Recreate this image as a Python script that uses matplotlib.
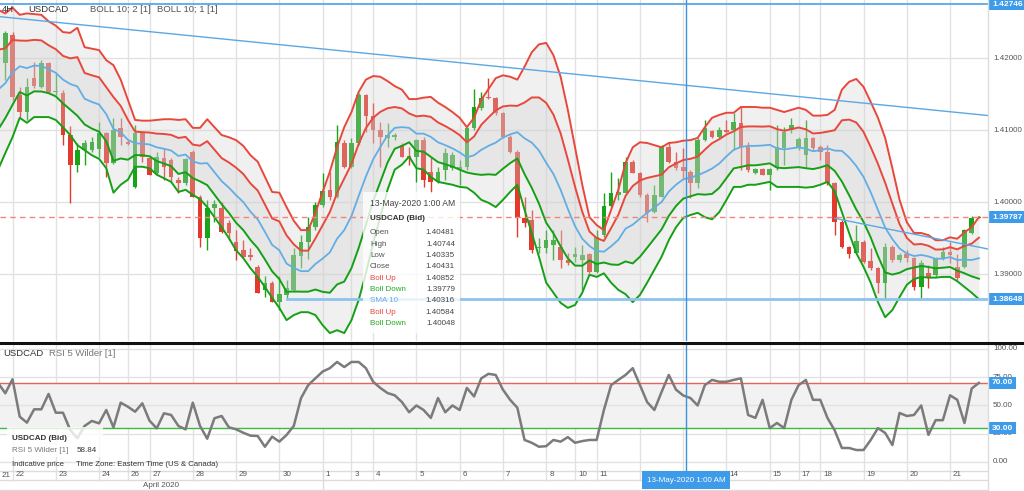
import numpy as np
import matplotlib
matplotlib.use("Agg")
import matplotlib.pyplot as plt
import matplotlib.transforms as mtransforms
from matplotlib.patches import Rectangle
from matplotlib.lines import Line2D

plt.rcParams['font.family'] = ['Liberation Sans', 'DejaVu Sans']

# ---------------- data (USDCAD 4H, bar -1 .. 135) ----------------
bar_index = list(range(-1, 136))

open_ = [1.4211, 1.4193, 1.4232, 1.4149, 1.4125, 1.4172, 1.4160, 1.4193, 1.4153, 1.4151,
         1.4093, 1.4052, 1.4072, 1.4072, 1.4074, 1.4096, 1.4054, 1.4103, 1.4083, 1.4021,
         1.4096, 1.4061, 1.4040, 1.4061, 1.4058, 1.4031, 1.4026, 1.4070, 1.4007, 1.3950,
         1.3992, 1.3992, 1.3971, 1.3945, 1.3933, 1.3926, 1.3910, 1.3878, 1.3888, 1.3861,
         1.3871, 1.3878, 1.3925, 1.3945, 1.3965, 1.3996, 1.4017, 1.4007, 1.4082, 1.4049,
         1.4082, 1.4149, 1.4120, 1.4100, 1.4089, 1.4090, 1.4079, 1.4064, 1.4063, 1.4086,
         1.4042, 1.4028, 1.4045, 1.4047, 1.4046, 1.4049, 1.4103, 1.4131, 1.4146, 1.4145,
         1.4124, 1.4090, 1.4070, 1.3978, 1.3975, 1.3936, 1.3936, 1.3940, 1.3938, 1.3920,
         1.3924, 1.3920, 1.3928, 1.3903, 1.3954, 1.3994, 1.4010, 1.4013, 1.4056, 1.4040,
         1.4010, 1.3986, 1.4007, 1.4076, 1.4056, 1.40481, 1.4042, 1.4026, 1.4086, 1.4099,
         1.4090, 1.4100, 1.4100, 1.4110, 1.4076, 1.4040, 1.4046, 1.4038, 1.4047, 1.4075,
         1.4100, 1.4075, 1.4065, 1.4089, 1.4076, 1.4070, 1.4026, 1.3972, 1.3938, 1.3929,
         1.3945, 1.3918, 1.3908, 1.3888, 1.3938, 1.3920, 1.3928, 1.3922, 1.3882, 1.3901,
         1.3899, 1.3922, 1.3931, 1.3910, 1.3910, 1.3957, 1.3978]

high = [1.4214, 1.4238, 1.4236, 1.4160, 1.4172, 1.4195, 1.4197, 1.4195, 1.4179, 1.4156,
        1.4106, 1.4082, 1.4086, 1.4090, 1.4111, 1.4097, 1.4117, 1.4117, 1.4086, 1.4107,
        1.4099, 1.4065, 1.4070, 1.4075, 1.4061, 1.4035, 1.4061, 1.4072, 1.4010, 1.4003,
        1.4003, 1.4000, 1.3975, 1.3961, 1.3947, 1.3936, 1.3913, 1.3897, 1.3891, 1.3897,
        1.3892, 1.3936, 1.3954, 1.3979, 1.4000, 1.4040, 1.4042, 1.4107, 1.4086, 1.4089,
        1.4151, 1.4150, 1.4137, 1.4111, 1.4110, 1.4096, 1.4082, 1.4076, 1.4087, 1.4090,
        1.4063, 1.4049, 1.4075, 1.4070, 1.4058, 1.4104, 1.4157, 1.4153, 1.4172, 1.4146,
        1.4125, 1.4093, 1.4072, 1.4007, 1.3989, 1.3950, 1.3961, 1.3961, 1.3961, 1.3929,
        1.3938, 1.3940, 1.3929, 1.3961, 1.4013, 1.4042, 1.4033, 1.4063, 1.4058, 1.4042,
        1.4013, 1.4024, 1.4079, 1.4083, 1.4070, 1.40744, 1.4045, 1.4089, 1.4114, 1.4100,
        1.4104, 1.4114, 1.4124, 1.4133, 1.4083, 1.4047, 1.4047, 1.4047, 1.4107, 1.4104,
        1.4117, 1.4090, 1.4114, 1.4090, 1.4079, 1.4079, 1.4028, 1.3975, 1.3939, 1.3968,
        1.3947, 1.3936, 1.3910, 1.3943, 1.3940, 1.3929, 1.3933, 1.3924, 1.3920, 1.3913,
        1.3924, 1.3938, 1.3945, 1.3928, 1.3963, 1.3981, 1.3980]

low = [1.4190, 1.4170, 1.4142, 1.4118, 1.4114, 1.4158, 1.4158, 1.4151, 1.4149, 1.4079,
       1.3999, 1.4042, 1.4052, 1.4070, 1.4063, 1.4035, 1.4053, 1.4079, 1.4079, 1.4020,
       1.4056, 1.4038, 1.4038, 1.4031, 1.4028, 1.4013, 1.4024, 1.4007, 1.3938, 1.3933,
       1.3972, 1.3957, 1.3947, 1.3920, 1.3922, 1.3920, 1.3874, 1.3868, 1.3861, 1.3850,
       1.3867, 1.3875, 1.3908, 1.3921, 1.3961, 1.3993, 1.4003, 1.4006, 1.4047, 1.4047,
       1.4079, 1.4097, 1.4082, 1.4049, 1.4076, 1.4086, 1.4063, 1.4052, 1.4028, 1.4021,
       1.4013, 1.4026, 1.4031, 1.4045, 1.4024, 1.4045, 1.4100, 1.4128, 1.4143, 1.4121,
       1.4089, 1.4068, 1.3952, 1.3965, 1.3929, 1.3929, 1.3929, 1.3920, 1.3908, 1.3913,
       1.3917, 1.3878, 1.3901, 1.3901, 1.3952, 1.3993, 1.4003, 1.4013, 1.4040, 1.4007,
       1.3972, 1.3985, 1.4007, 1.4054, 1.4045, 1.40335, 1.4006, 1.4020, 1.4085, 1.4089,
       1.4089, 1.4096, 1.4072, 1.4045, 1.4042, 1.4039, 1.4037, 1.4017, 1.4045, 1.4052,
       1.4096, 1.4072, 1.4049, 1.4072, 1.4058, 1.4024, 1.3954, 1.3936, 1.3922, 1.3929,
       1.3915, 1.3906, 1.3874, 1.3864, 1.3917, 1.3917, 1.3917, 1.3878, 1.3867, 1.3881,
       1.3896, 1.3920, 1.3915, 1.3892, 1.3908, 1.3956, 1.3978]

close = [1.4193, 1.4235, 1.4146, 1.4125, 1.4160, 1.4161, 1.4193, 1.4153, 1.4154, 1.4093,
         1.4052, 1.4072, 1.4082, 1.4083, 1.4096, 1.4054, 1.4100, 1.4090, 1.4081, 1.4096,
         1.4063, 1.4038, 1.4063, 1.4049, 1.4035, 1.4026, 1.4060, 1.4007, 1.3950, 1.3992,
         1.3997, 1.3959, 1.3957, 1.3932, 1.3924, 1.3924, 1.3874, 1.3888, 1.3861, 1.3872,
         1.3881, 1.3926, 1.3944, 1.3965, 1.3996, 1.4015, 1.4007, 1.4083, 1.4049, 1.4082,
         1.4149, 1.4120, 1.4100, 1.4090, 1.4093, 1.4093, 1.4063, 1.4061, 1.4086, 1.4031,
         1.4028, 1.4042, 1.4068, 1.4065, 1.4049, 1.4103, 1.4132, 1.4145, 1.4145, 1.4124,
         1.4090, 1.4070, 1.3978, 1.3971, 1.3933, 1.3938, 1.3947, 1.3947, 1.3920, 1.3915,
         1.3928, 1.3926, 1.3903, 1.3952, 1.3994, 1.4013, 1.4014, 1.4056, 1.4040, 1.4010,
         1.3985, 1.4010, 1.4076, 1.4056, 1.4047, 1.40431, 1.4026, 1.4086, 1.4103, 1.4090,
         1.4100, 1.4097, 1.4111, 1.4076, 1.4045, 1.4046, 1.4038, 1.4046, 1.4076, 1.4097,
         1.4107, 1.4088, 1.4089, 1.4075, 1.4070, 1.4026, 1.3972, 1.3938, 1.3928, 1.3946,
         1.3917, 1.3908, 1.3888, 1.3938, 1.3920, 1.3926, 1.3922, 1.3882, 1.3915, 1.3894,
         1.3922, 1.3931, 1.3926, 1.3894, 1.3961, 1.3978, 1.39787]

# Bollinger (10; 2) outer bands as drawn
boll_up2 = [1.4267, 1.4262, 1.4270, 1.4260, 1.4262, 1.4261, 1.4260, 1.4251, 1.4245, 1.4236,
            1.4235, 1.4242, 1.4215, 1.4213, 1.4211, 1.4197, 1.4190, 1.4170, 1.4142, 1.4114,
            1.4113, 1.4113, 1.4114, 1.4115, 1.4115, 1.4114, 1.4115, 1.4103, 1.4103, 1.4115,
            1.4104, 1.4093, 1.4090, 1.4086, 1.4078, 1.4065, 1.4056, 1.4035, 1.4014, 1.4013,
            1.3993, 1.3974, 1.3961, 1.3961, 1.3985, 1.4014, 1.4042, 1.4076, 1.4104, 1.4125,
            1.4153, 1.4170, 1.4175, 1.4174, 1.4168, 1.4161, 1.4156, 1.4143, 1.4143, 1.4145,
            1.4146, 1.4138, 1.4132, 1.4125, 1.4117, 1.4104, 1.4117, 1.4142, 1.4157, 1.4172,
            1.4176, 1.4174, 1.4170, 1.4188, 1.4208, 1.4219, 1.4221, 1.4204, 1.4174, 1.4128,
            1.4076, 1.4024, 1.3979, 1.3968, 1.3961, 1.3989, 1.4017, 1.4054, 1.4076, 1.4083,
            1.4082, 1.4079, 1.4076, 1.4082, 1.4083, 1.40852, 1.4086, 1.4089, 1.4104, 1.4117,
            1.4121, 1.4124, 1.4124, 1.4132, 1.4132, 1.4132, 1.4131, 1.4131, 1.4128, 1.4125,
            1.4128, 1.4131, 1.4128, 1.4120, 1.4120, 1.4121, 1.4128, 1.4156, 1.4167, 1.4171,
            1.4160, 1.4139, 1.4117, 1.4089, 1.4047, 1.4003, 1.3972, 1.3957, 1.3957, 1.3954,
            1.3947, 1.3947, 1.3951, 1.3949, 1.3958, 1.3965, 1.3979]

boll_down2 = [1.4045, 1.4068, 1.4090, 1.4117, 1.4110, 1.4118, 1.4118, 1.4118, 1.4114, 1.4104,
              1.4093, 1.4079, 1.4072, 1.4065, 1.4060, 1.4047, 1.4013, 1.4024, 1.4031, 1.4049,
              1.4049, 1.4047, 1.4038, 1.4033, 1.4028, 1.4014, 1.4017, 1.4010, 1.4004, 1.3993,
              1.3979, 1.3965, 1.3950, 1.3933, 1.3922, 1.3908, 1.3896, 1.3882, 1.3867, 1.3853,
              1.3836, 1.3843, 1.3847, 1.3847, 1.3843, 1.3829, 1.3818, 1.3822, 1.3818, 1.3836,
              1.3864, 1.3901, 1.3943, 1.3979, 1.4017, 1.4045, 1.4052, 1.4063, 1.4047, 1.4045,
              1.4035, 1.4028, 1.4026, 1.4024, 1.4021, 1.4020, 1.4013, 1.4003, 1.3999, 1.3993,
              1.4003, 1.4014, 1.4024, 1.3989, 1.3957, 1.3924, 1.3888, 1.3874, 1.3860, 1.3853,
              1.3857, 1.3874, 1.3899, 1.3896, 1.3901, 1.3888, 1.3878, 1.3872, 1.3861, 1.3871,
              1.3888, 1.3906, 1.3924, 1.3947, 1.3965, 1.39779, 1.3982, 1.3985, 1.3979, 1.3976,
              1.3986, 1.4003, 1.4021, 1.4021, 1.4024, 1.4024, 1.4026, 1.4028, 1.4021, 1.4021,
              1.4021, 1.4021, 1.4020, 1.4021, 1.4024, 1.4028, 1.4015, 1.3986, 1.3957, 1.3929,
              1.3910, 1.3888, 1.3861, 1.3840, 1.3850, 1.3868, 1.3885, 1.3893, 1.3896, 1.3895,
              1.3895, 1.3896, 1.3896, 1.3890, 1.3882, 1.3874, 1.3865]

rsi5 = [70.0, 60.8, 73.2, 40.1, 34.8, 46.6, 46.6, 60.2, 43.6, 43.6,
        28.3, 21.0, 31.9, 36.3, 34.2, 46.0, 30.7, 52.5, 48.9, 44.5,
        51.9, 36.5, 29.8, 43.1, 41.6, 31.9, 28.9, 52.5, 31.9, 20.6,
        38.7, 40.7, 30.7, 28.9, 25.9, 23.3, 23.0, 13.5, 22.4, 18.0,
        23.9, 31.9, 56.4, 68.0, 74.0, 80.0, 83.0, 88.5, 84.0, 88.5,
        88.5, 83.0, 71.0, 65.5, 61.0, 59.0, 53.0, 44.0, 50.0, 46.0,
        39.0, 56.6, 44.0, 50.0, 46.0, 65.5, 58.0, 74.0, 78.0, 77.0,
        64.0, 55.0, 48.0, 19.5, 17.0, 13.5, 14.0, 19.5, 18.0, 22.0,
        17.0, 18.5, 19.5, 19.5, 46.0, 68.0, 72.6, 77.0, 83.0, 68.0,
        53.0, 46.0, 62.0, 77.0, 64.0, 58.84, 56.6, 50.0, 68.0, 72.6,
        71.0, 71.0, 72.6, 74.0, 41.6, 39.0, 55.0, 30.0, 34.5, 30.0,
        55.0, 68.0, 72.6, 55.0, 55.0, 39.0, 28.0, 12.4, 12.4, 10.6,
        10.6, 19.5, 30.0, 25.7, 15.0, 43.4, 40.7, 41.6, 50.0, 24.0,
        37.0, 37.0, 59.0, 55.0, 34.5, 65.0, 70.0]

day_labels = ['21', '22', '23', '24', '26', '27', '28', '29', '30', '1', '3', '4', '5',
              '6', '7', '8', '10', '11', '12', '13', '14', '15', '17', '18', '19', '20', '21']
day_start = [-1, 1, 7, 13, 17, 20, 26, 32, 38, 44, 48, 51, 57,
             63, 69, 75, 79, 82, 88, 94, 100, 106, 110, 113, 119, 125, 131]
month_label = 'April 2020'
month_divider = 44          # first bar of May (May label sits under the crosshair tag)

price_ticks = [1.39, 1.40, 1.41, 1.42]
rsi_ticks = [0, 25, 50, 75, 100]
rsi_upper, rsi_lower = 70, 30
current_price = 1.39787
resistance = 1.42746
support = 1.38648
support_from = 39
trend_a = [(0, 1.42567), (134, 1.41224)]
trend_b = [(115, 1.39774), (134, 1.39393)]
cross_bar = 94
tooltip_time = '13-May-2020 1:00 AM'
tooltip_labels = ['Open', 'High', 'Low', 'Close', 'Boll Up', 'Boll Down', 'SMA 10', 'Boll Up', 'Boll Down']
tooltip_values = [1.40481, 1.40744, 1.40335, 1.40431, 1.40852, 1.39779, 1.40316, 1.40584, 1.40048]
rsi_at_cross = 58.84

# ---------------- style ----------------
C_UP = '#19a319'
C_DN = '#e5382c'
B_RED = '#e8483c'
B_GRN = '#15a015'
B_BLUE = '#62aee4'
TL = '#5aa8e6'
TAG = '#3d9be9'
GRID = '#e2e2e2'
TXT = '#555555'
DARK = '#333333'

W, H = 1024, 491
fig = plt.figure(figsize=(W / 100, H / 100), dpi=100)
fig.patch.set_facecolor('white')


def fx(px):
    return px / W


def fy(py):
    return 1 - py / H


PR = 988
X0, X1 = -0.7335, 136.26
PX_PER_UNIT = 7200.0
P_TOP = 1.42806
P_BOT = P_TOP - 341 / PX_PER_UNIT

ax = fig.add_axes([0, fy(341), fx(PR), 341 / H])
ax_r = fig.add_axes([0, fy(470), fx(PR), 125 / H])
ax_d = fig.add_axes([0, 0, fx(PR), 21 / H])
for a in (ax, ax_r, ax_d):
    a.set_xlim(X0, X1)
    a.set_axis_off()
ax.set_ylim(P_BOT, P_TOP)
ax_r.set_ylim(-7.08, 103.5)
ax_d.set_ylim(21, 0)

idx = np.array(bar_index, dtype=float)
o = np.array(open_)
h = np.array(high)
l = np.array(low)
c = np.array(close)
up2 = np.array(boll_up2)
lo2 = np.array(boll_down2)
sma = (up2 + lo2) / 2
half = (up2 - lo2) / 4
up1 = sma + half
lo1 = sma - half

# grid
for p in price_ticks:
    ax.axhline(p, color=GRID, lw=1, zorder=0)
for d in day_start:
    if d >= 0:
        ax.axvline(d, color=GRID, lw=1, zorder=0)
        ax_r.axvline(d, color=GRID, lw=1, zorder=0)
        ax_d.plot([d, d], [0, 10], color=GRID, lw=1, zorder=0)

# candles
bull = c >= o
ccol = np.where(bull, C_UP, C_DN)
ax.vlines(idx, l, h, colors=ccol, lw=1.0, zorder=2)
ax.bar(idx, np.maximum(np.abs(c - o), 0.00008), bottom=np.minimum(o, c),
       width=0.64, color=ccol, lw=0, zorder=2)

# bollinger fills + lines
ax.fill_between(idx, lo2, up2, color='#d0d0d0', alpha=0.3, lw=0, zorder=3)
ax.fill_between(idx, lo1, up1, color='#d0d0d0', alpha=0.3, lw=0, zorder=3)
for arr, col in ((up2, B_RED), (up1, B_RED), (lo2, B_GRN), (lo1, B_GRN)):
    ax.plot(idx, arr, color=col, lw=1.4, zorder=4, solid_joinstyle='round')
ax.plot(idx, sma, color=B_BLUE, lw=1.3, zorder=4, solid_joinstyle='round')

# drawings
(xa0, ya0), (xa1, ya1) = trend_a
ax.axline((xa0, ya0), (xa1, ya1), color=TL, lw=1.0, zorder=5)
(xb0, yb0), (xb1, yb1) = trend_b
sb = (yb1 - yb0) / (xb1 - xb0)
ax.plot([xb0, X1], [yb0, yb0 + sb * (X1 - xb0)], color=TL, lw=1.0, zorder=5)
ax.axhline(resistance, color=TL, lw=1.3, zorder=5)
ax.plot([support_from, X1], [support, support], color='#8cc4ee', lw=2.0, zorder=5)
ax.axhline(current_price, color='#f0857a', lw=1.0, ls=(0, (4, 3)), zorder=5)

cross_x = cross_bar + 0.35
ax.axvline(cross_x, color='#3a93dc', lw=1.0, zorder=6)
ax_r.axvline(cross_x, color='#3a93dc', lw=1.0, zorder=6)
ax_d.plot([cross_x, cross_x], [0, 4], color='#3a93dc', lw=1.0, zorder=6)

# right price labels
tr = mtransforms.blended_transform_factory(ax.transAxes, ax.transData)
for p in price_ticks:
    ax.text(993 / PR, p, f'{p:.5f}', transform=tr, fontsize=5.8, color=TXT, va='center', ha='left')
for p in (resistance, current_price, support):
    ax.text(992 / PR, p, f'{p:.5f}', transform=tr, fontsize=6.0, color='white', fontweight='bold',
            va='center', ha='left', zorder=9,
            bbox=dict(boxstyle='square,pad=0.3', fc=TAG, ec='none'))

# RSI panel
ax_r.axhspan(rsi_lower, rsi_upper, color='#f2f2f2', lw=0, zorder=0)
for v in rsi_ticks:
    ax_r.axhline(v, color=GRID, lw=1, zorder=0.5)
ax_r.axhline(rsi_upper, color='#ec6157', lw=1, zorder=2)
ax_r.axhline(rsi_lower, color='#3cba3c', lw=1, zorder=2)
ax_r.plot(idx, rsi5, color='#7b7b7b', lw=1.8, zorder=3, solid_joinstyle='round')
trr = mtransforms.blended_transform_factory(ax_r.transAxes, ax_r.transData)
for v in rsi_ticks:
    ax_r.text(993 / PR, v, f'{v:.2f}', transform=trr, fontsize=5.8, color=TXT, va='center', ha='left')
for v in (rsi_upper, rsi_lower):
    ax_r.text(992 / PR, v, f'{v:.2f}', transform=trr, fontsize=6.0, color='white', fontweight='bold',
              va='center', ha='left', zorder=9,
              bbox=dict(boxstyle='square,pad=0.3', fc=TAG, ec='none'))

# date strip
for yy in (0.5, 10, 20):
    ax_d.axhline(yy, color='#dcdcdc', lw=1, zorder=0)
ax_d.plot([month_divider, month_divider], [0, 21], color='#dcdcdc', lw=1, zorder=0)
off3 = mtransforms.ScaledTranslation(3 / 100, 0, fig.dpi_scale_trans)
for lab, d in zip(day_labels, day_start):
    if d >= 0:
        ax_d.text(d, 5, lab, transform=ax_d.transData + off3, fontsize=5.8, color=TXT, va='center', ha='left')
    else:
        ax_d.text(2 / PR, 0.76, lab, transform=ax_d.transAxes, fontsize=5.8, color=TXT, va='center', ha='left')
ax_d.text((X0 + month_divider) / 2, 15.5, month_label, fontsize=5.8, color=TXT, va='center', ha='center')

# right edge line and panel separator
fig.add_artist(Line2D([fx(PR), fx(PR)], [0, 1], transform=fig.transFigure, color='#dddddd', lw=1, zorder=1))
fig.add_artist(Line2D([0, 1], [fy(342.5), fy(342.5)], transform=fig.transFigure, color='#111111', lw=2.2, zorder=8))

# header texts
fig.text(fx(2), fy(9), '4H', fontsize=6.8, color=DARK, va='center', ha='left', zorder=9)
fig.text(fx(28), fy(9), 'USDCAD', fontsize=6.8, color=DARK, va='center', ha='left', zorder=9)
fig.text(fx(90), fy(9), 'BOLL 10; 2 [1]', fontsize=6.8, color=TXT, va='center', ha='left', zorder=9)
fig.text(fx(157), fy(9), 'BOLL 10; 1 [1]', fontsize=6.8, color=TXT, va='center', ha='left', zorder=9)
fig.text(fx(3), fy(354), 'USDCAD', fontsize=6.8, color=DARK, va='center', ha='left', zorder=9)
fig.text(fx(49), fy(354), 'RSI 5 Wilder [1]', fontsize=6.8, color='#777777', va='center', ha='left', zorder=9)

# main tooltip
fig.add_artist(Rectangle((fx(363), fy(333)), fx(97), (333 - 192) / H, transform=fig.transFigure,
                         fc='white', ec='none', alpha=0.8, zorder=7))
fig.text(fx(370), fy(204), tooltip_time, fontsize=6.2, color='#444444', va='center', ha='left', zorder=9)
fig.text(fx(370), fy(219), 'USDCAD (Bid)', fontsize=5.8, color=DARK, fontweight='bold', va='center', ha='left', zorder=9)
tcols = ['#555555'] * 4 + [B_RED, '#22aa22', B_BLUE, B_RED, '#22aa22']
for k, (lab, val) in enumerate(zip(tooltip_labels, tooltip_values)):
    yy = 233 + 11.3 * k
    fig.text(fx(370), fy(yy), lab, fontsize=5.8, color=tcols[k], va='center', ha='left', zorder=9)
    fig.text(fx(455), fy(yy), f'{val:.5f}', fontsize=5.8, color='#444444', va='center', ha='right', zorder=9)

# rsi tooltip
fig.add_artist(Rectangle((fx(7), fy(457)), fx(96), 30 / H, transform=fig.transFigure,
                         fc='white', ec='none', alpha=0.8, zorder=7))
fig.text(fx(12), fy(439), 'USDCAD (Bid)', fontsize=5.8, color=DARK, fontweight='bold', va='center', ha='left', zorder=9)
fig.text(fx(12), fy(451), 'RSI 5 Wilder [1]', fontsize=5.8, color='#777777', va='center', ha='left', zorder=9)
fig.text(fx(77), fy(451), f'{rsi_at_cross:.2f}', fontsize=5.8, color=DARK, va='center', ha='left', zorder=9)
fig.text(fx(12), fy(465), 'Indicative price', fontsize=5.6, color=DARK, va='center', ha='left', zorder=9)
fig.text(fx(76), fy(465), 'Time Zone: Eastern Time (US & Canada)', fontsize=5.6, color=DARK, va='center', ha='left', zorder=9)

# crosshair date tag (covers the day labels beneath it, as in the original)
fig.add_artist(Rectangle((fx(642), fy(489)), fx(88), 18 / H, transform=fig.transFigure,
                         fc=TAG, ec='none', zorder=10))
fig.text(fx(686), fy(480.5), tooltip_time, fontsize=5.8, color='white', va='center', ha='center', zorder=11)

fig.savefig('out.png', dpi=100)
